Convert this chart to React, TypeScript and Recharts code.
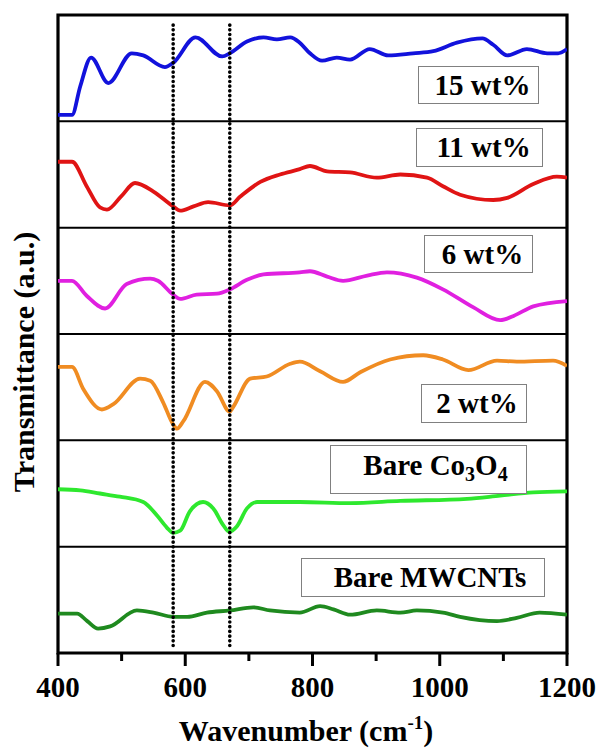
import React from "react"
import { LineChart, Line, XAxis, YAxis, ReferenceLine, ReferenceArea } from "recharts"

// [wavenumber (cm-1), transmittance within its own panel (a.u., 0-100)]
const wt15: [number, number][] = [
    [400, 6], [422, 6], [435, 33], [452, 60], [479, 36], [516, 64], [534, 62], [568, 51], [581, 55],
    [616, 79], [658, 61], [670, 64], [697, 75], [723, 79], [744, 77], [765, 79], [780, 74], [796, 64],
    [815, 57], [838, 60], [859, 58], [890, 68], [919, 62], [958, 64], [990, 66], [1027, 74], [1067, 78],
    [1084, 72], [1106, 62], [1137, 68], [1169, 64], [1186, 64], [1200, 68],
]
const wt11: [number, number][] = [
    [400, 62], [422, 62], [445, 39], [466, 19], [477, 17], [500, 30], [521, 42], [550, 34], [581, 20],
    [592, 16], [613, 20], [636, 24], [670, 21], [686, 29], [718, 43], [749, 50], [780, 55], [796, 58],
    [823, 53], [859, 52], [901, 47], [938, 50], [980, 47], [1005, 39], [1032, 31], [1084, 26], [1106, 28],
    [1147, 41], [1184, 48], [1200, 47],
]
const wt6: [number, number][] = [
    [400, 50], [422, 50], [445, 36], [474, 24], [508, 47], [545, 52], [557, 50], [581, 37], [592, 33],
    [618, 37], [650, 38], [670, 42], [697, 51], [723, 56], [780, 58], [796, 59], [823, 54], [848, 50],
    [886, 55], [917, 58], [964, 53], [1005, 42], [1053, 25], [1095, 13], [1116, 17], [1147, 26], [1200, 31],
]
const wt2: [number, number][] = [
    [400, 69], [422, 69], [440, 48], [469, 29], [487, 34], [529, 58], [545, 56], [565, 36], [581, 15],
    [587, 11], [597, 18], [631, 55], [650, 46], [670, 27], [675, 31], [702, 58], [728, 60], [765, 72],
    [780, 74], [812, 65], [848, 55], [875, 64], [922, 76], [974, 80], [1005, 76], [1045, 66], [1090, 75],
    [1121, 74], [1178, 75], [1200, 70],
]
const co3o4: [number, number][] = [
    [400, 54], [435, 53], [466, 50], [497, 47], [534, 42], [556, 29], [571, 18], [581, 13], [592, 15],
    [607, 33], [628, 42], [644, 36], [660, 20], [669, 14], [681, 19], [697, 36], [713, 42], [744, 42],
    [780, 42], [859, 41], [938, 43], [1043, 45], [1095, 48], [1147, 51], [1200, 52],
]
const mwcnt: [number, number][] = [
    [400, 37], [430, 37], [446, 30], [463, 23], [482, 25], [524, 40], [550, 38], [581, 34], [603, 34],
    [634, 38], [670, 40], [707, 43], [733, 40], [780, 38], [812, 44], [833, 41], [859, 36], [901, 40],
    [938, 38], [964, 40], [1005, 38], [1032, 34], [1090, 30], [1121, 33], [1157, 38], [1200, 36],
]

const majorTicks = [400, 600, 800, 1000, 1200]
const allTicks = [400, 500, 600, 700, 800, 900, 1000, 1100, 1200]
const bandLines = [581, 670]

const series = [
    { name: "15 wt%", pts: wt15, color: "#1212dc" },
    { name: "11 wt%", pts: wt11, color: "#e01414" },
    { name: "6 wt%", pts: wt6, color: "#e020e0" },
    { name: "2 wt%", pts: wt2, color: "#f08c22" },
    { name: "Bare Co3O4", pts: co3o4, color: "#2ee82e" },
    { name: "Bare MWCNTs", pts: mwcnt, color: "#1f8a1f" },
]

const FONT = "'Liberation Serif', 'Times New Roman', serif"

function WnTick(props: any) {
    const { x, y, payload } = props
    const major = majorTicks.includes(payload.value)
    return (
        <g>
            <line x1={x} x2={x} y1={y} y2={y + (major ? 13 : 8)} stroke="#000" strokeWidth={3} />
            {major && (
                <text x={x} y={y + 44} textAnchor="middle" fontFamily={FONT} fontWeight="bold" fontSize={29} fill="#000">
                    {payload.value}
                </text>
            )}
        </g>
    )
}

const boxStyle: React.CSSProperties = {
    position: "absolute",
    border: "1px solid #808080",
    background: "#fff",
    display: "flex",
    alignItems: "center",
    justifyContent: "center",
    fontFamily: FONT,
    fontWeight: "bold",
    fontSize: 29,
    color: "#000",
    whiteSpace: "nowrap",
    boxSizing: "border-box",
}

const sub: React.CSSProperties = { fontSize: 20, position: "relative", top: 9 }

export default function App() {
    const n = series.length
    return (
        <div style={{ position: "absolute", left: 0, top: 0, width: 601, height: 753, background: "#fff" }}>
            <LineChart width={601} height={753} margin={{ top: 15, right: 34, bottom: 40, left: 58 }}>
                <XAxis
                    type="number"
                    dataKey="w"
                    domain={[400, 1200]}
                    ticks={allTicks}
                    interval={0}
                    tick={<WnTick />}
                    tickLine={false}
                    tickSize={0}
                    tickMargin={0}
                    axisLine={false}
                    height={60}
                    allowDataOverflow
                />
                <YAxis type="number" domain={[0, n * 100]} hide />
                {series.map((s, i) => (
                    <Line
                        key={s.name}
                        data={s.pts.map(([w, v]) => ({ w, v: v + (n - 1 - i) * 100 }))}
                        dataKey="v"
                        type="monotone"
                        stroke={s.color}
                        strokeWidth={3.8}
                        dot={false}
                        isAnimationActive={false}
                    />
                ))}
                {[1, 2, 3, 4, 5].map((k) => (
                    <ReferenceLine key={k} y={k * 100} stroke="#000" strokeWidth={2} />
                ))}
                {bandLines.map((b) => (
                    <ReferenceLine
                        key={b}
                        segment={[{ x: b, y: 7 }, { x: b, y: 591 }]}
                        stroke="#000"
                        strokeWidth={3.6}
                        strokeDasharray="0.1 4.6"
                        strokeLinecap="round"
                    />
                ))}
                <ReferenceArea x1={400} x2={1200} y1={0} y2={600} fill="none" fillOpacity={0} stroke="#000" strokeWidth={3.2} />
            </LineChart>

            <div style={{ ...boxStyle, left: 418, top: 66, width: 121, height: 38, paddingLeft: 8 }}>15 wt%</div>
            <div style={{ ...boxStyle, left: 416, top: 128, width: 127, height: 39, paddingLeft: 8 }}>11 wt%</div>
            <div style={{ ...boxStyle, left: 424, top: 235, width: 109, height: 38, paddingLeft: 8 }}>6 wt%</div>
            <div style={{ ...boxStyle, left: 421, top: 384, width: 106, height: 39, paddingLeft: 6 }}>2 wt%</div>
            <div style={{ ...boxStyle, left: 330, top: 445, width: 197, height: 49, paddingLeft: 14, paddingBottom: 8 }}>
                Bare Co<span style={sub}>3</span>O<span style={sub}>4</span>
            </div>
            <div style={{ ...boxStyle, left: 301, top: 558, width: 244, height: 39, paddingLeft: 14 }}>Bare MWCNTs</div>

            <div
                style={{
                    position: "absolute",
                    left: 24,
                    top: 362,
                    transform: "translate(-50%, -50%) rotate(-90deg)",
                    fontFamily: FONT,
                    fontWeight: "bold",
                    fontSize: 30,
                    whiteSpace: "nowrap",
                    lineHeight: "30px",
                }}
            >
                Transmittance (a.u.)
            </div>
            <div
                style={{
                    position: "absolute",
                    left: 306,
                    top: 716,
                    transform: "translateX(-50%)",
                    fontFamily: FONT,
                    fontWeight: "bold",
                    fontSize: 30,
                    whiteSpace: "nowrap",
                    lineHeight: "30px",
                }}
            >
                Wavenumber (cm<span style={{ fontSize: 19, position: "relative", top: -12 }}>-1</span>)
            </div>
        </div>
    )
}
